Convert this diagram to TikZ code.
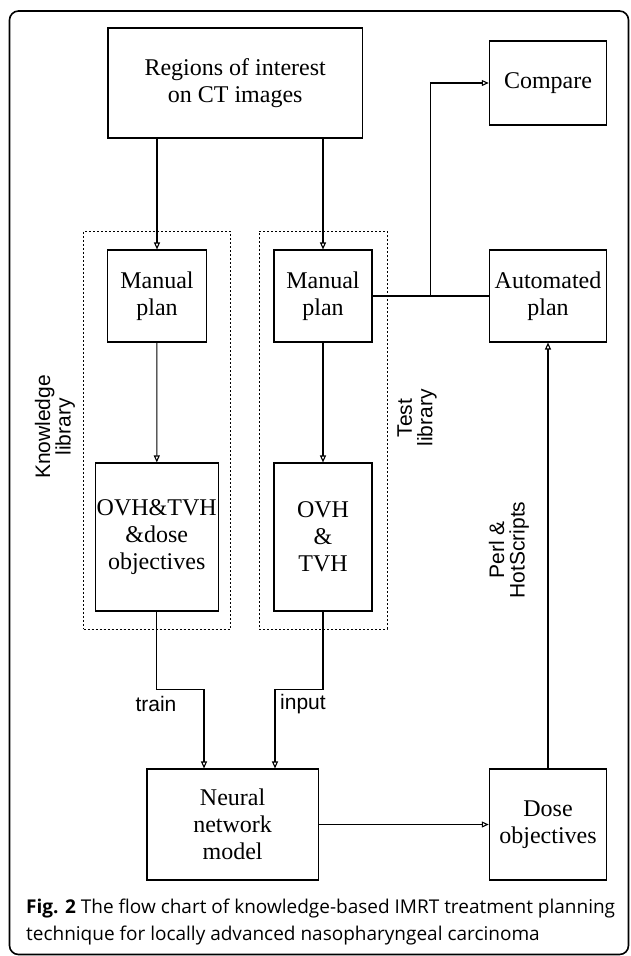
\documentclass[tikz,border=0pt]{standalone}
\usepackage{fontspec}
\setmainfont{Liberation Serif}
\newfontfamily\labelfont{Liberation Sans}
\newfontfamily\capfont{Open Sans}
\usepackage{tikz}
\usetikzlibrary{arrows.meta,positioning}

\begin{document}
\begin{tikzpicture}[x=1pt,y=-1pt,
box/.style={draw,line width=1.1pt,align=center,inner sep=0pt,font=\fontsize{24}{27}\selectfont},
group/.style={draw,line width=0.9pt,dash pattern=on 2pt off 2pt,inner sep=0pt},
lbl/.style={font=\labelfont\fontsize{21}{20.5}\selectfont,align=center},
flow/.style={line width=1.1pt,-{Triangle[open,length=7pt,width=6pt]}},
link/.style={line width=1.1pt}]
\useasboundingbox (0,0) rectangle (630,956);
\draw[line width=1.6pt,rounded corners=9pt] (9.5,11) rectangle (628.5,954.5);
\node[group,minimum width=146.6pt,minimum height=398pt] (knowlib) at (156.9,430) {};
\node[group,minimum width=128pt,minimum height=398pt] (testlib) at (323,430) {};
\node[box,minimum width=254.4pt,minimum height=110pt] (roi) at (235.2,83) {Regions of interest\\on CT images};
\node[box,minimum width=117.4pt,minimum height=84pt] (compare) at (548,83) {Compare};
\node[box,minimum width=98.4pt,minimum height=92pt] (manA) at (157,296) {Manual\\plan};
\node[box,minimum width=98pt,minimum height=92pt] (manB) at (323,296) {Manual\\plan};
\node[box,minimum width=117.4pt,minimum height=92pt] (auto) at (548,296) {Automated\\plan};
\node[box,minimum width=123pt,minimum height=148pt] (ovhA) at (156.7,537) {OVH\&TVH\\\&dose\\objectives};
\node[box,minimum width=98pt,minimum height=148pt] (ovhB) at (323,537) {OVH\\\&\\TVH};
\node[box,minimum width=171.2pt,minimum height=111pt] (nn) at (232.6,824.5) {Neural\\network\\model};
\node[box,minimum width=117.4pt,minimum height=111pt] (dose) at (548,824.5) {Dose\\objectives};
\node[lbl,rotate=90] (knowtxt) at (55,427) {Knowledge\\library};
\node[lbl,rotate=90] (testtxt) at (417,418) {Test\\library};
\node[lbl,rotate=90] (perltxt) at (509,550) {Perl \&\\HotScripts};
\node[lbl] (traintxt) at (156,704) {train};
\node[lbl] (inputtxt) at (303,704) {input};
\coordinate (split) at (430.7,296);
\draw[flow] (roi.south -| manA) -- (manA);
\draw[flow] (roi.south -| manB) -- (manB);
\draw[flow] (manA) -- (ovhA);
\draw[flow] (manB) -- (ovhB);
\draw[flow] (ovhA.south) -- ++(0,78) -| ([xshift=-28.6pt]nn.north);
\draw[flow] (ovhB.south) -- ++(0,78) -| ([xshift=42.4pt]nn.north);
\draw[link] (manB.east) -- (auto.west);
\draw[flow] (split) |- (compare.west);
\draw[flow] (dose.north) -- (auto.south);
\draw[flow] (nn.east) -- (dose.west);
\node[anchor=base west,align=left,inner sep=0pt,font=\capfont\fontsize{19}{27}\selectfont] (caption) at (26,940)
  {\textbf{Fig. 2} The flow chart of knowledge-based IMRT treatment planning\\technique for locally advanced nasopharyngeal carcinoma};
\end{tikzpicture}
\end{document}
